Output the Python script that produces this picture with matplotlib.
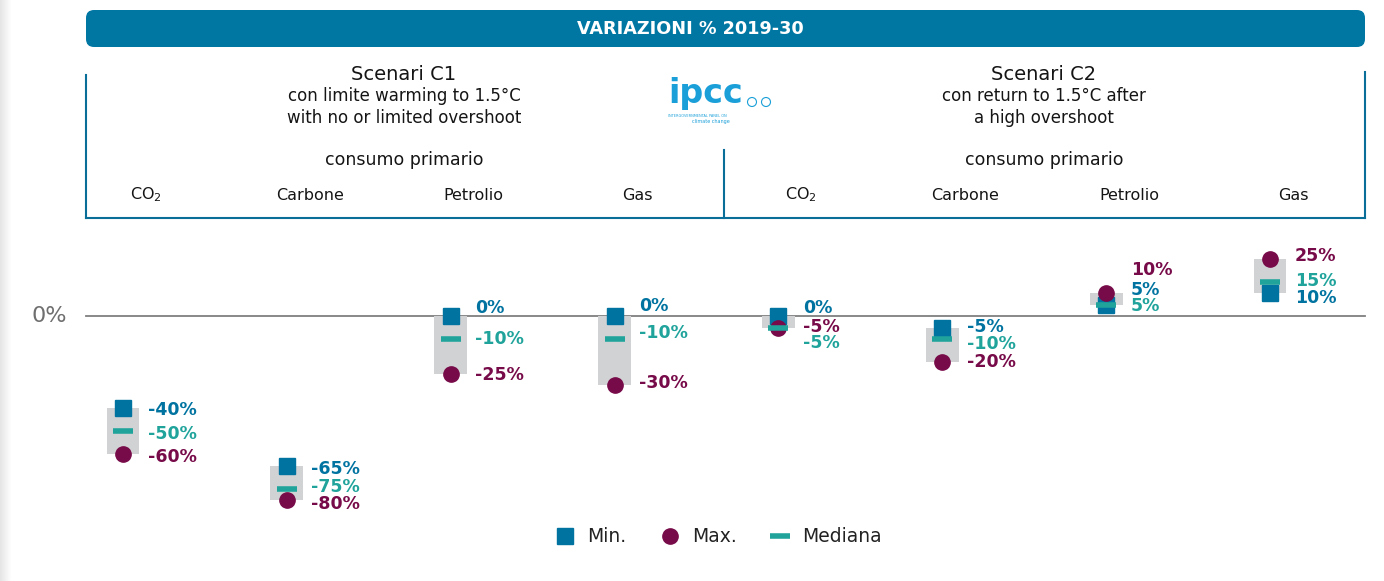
import numpy as np
import matplotlib
matplotlib.use('Agg')
import matplotlib.pyplot as plt
from matplotlib.patches import FancyBboxPatch, Circle
from matplotlib.lines import Line2D

plt.rcParams['font.family'] = ['DejaVu Sans']
plt.rcParams['mathtext.default'] = 'regular'

# data
categories = ['CO$_2$', 'Carbone', 'Petrolio', 'Gas', 'CO$_2$', 'Carbone', 'Petrolio', 'Gas']
val_min = [-40, -65, 0, 0, 0, -5, 5, 10]
val_max = [-60, -80, -25, -30, -5, -20, 10, 25]
val_med = [-50, -75, -10, -10, -5, -10, 5, 15]
groups = ['Scenari C1', 'Scenari C2']
group_sub = ['con limite warming to 1.5°C\nwith no or limited overshoot',
             'con return to 1.5°C after\na high overshoot']
title = 'VARIAZIONI % 2019-30'

# label nudges (in % units) so the value labels don't collide
nudge_min = [-0.9, -1.5, 3.5, 4.3, 3.5, 0.2, 6.3, -2.2]
nudge_med = [-1.3, 0.7, 0, 2.6, -6.7, -2.2, -0.7, 0.2]
nudge_max = [-1.3, -1.7, -0.7, 0.9, 0.2, 0, 10, 1.1]

c_blue = '#0073a0'
c_maroon = '#770a48'
c_teal = '#1fa39b'
c_grey = '#d1d2d4'
c_frame = '#0a6f98'
c_txt = '#151515'

W, H = 1384, 581
fig = plt.figure(figsize=(W / 100, H / 100), dpi=100)

# layout layer in pixel coords
lay = fig.add_axes([0, 0, 1, 1])
lay.set_xlim(0, W)
lay.set_ylim(H, 0)
lay.axis('off')

# card shadow on the left
grad = np.linspace(0.90, 1.0, 12).reshape(1, -1)
lay.imshow(np.dstack([grad] * 3), extent=(0, 12, H, 0), aspect='auto', zorder=0)

# title banner
lay.add_patch(FancyBboxPatch((86 + 8, 10 + 8), 1279 - 16, 37 - 16,
                             boxstyle='round,pad=8', fc='#0077a3', ec='none'))
lay.text(690, 29, title, color='white', fontsize=12.7, fontweight='bold',
         ha='center', va='center')

# header frame
lay.plot([86, 86], [75, 218], color=c_frame, lw=1.5)
lay.plot([1365, 1365], [72, 218], color=c_frame, lw=1.5)
lay.plot([724, 724], [150, 218], color=c_frame, lw=1.5)
lay.plot([86, 1365], [218, 218], color=c_frame, lw=1.5)

for gx, g, sub in zip([404, 1044], groups, group_sub):
    lay.text(gx, 74, g, fontsize=14, ha='center', va='center', color=c_txt)
    lay.text(gx, 107, sub, fontsize=12, ha='center', va='center',
             color=c_txt, linespacing=1.25)
    lay.text(gx, 160, 'consumo primario', fontsize=12.5, ha='center',
             va='center', color=c_txt)

# ipcc logo (approximation)
lay.text(706, 94, 'ipcc', fontsize=24, fontweight='bold', color='#1a9fd9',
         ha='center', va='center')
lay.text(697, 116, 'INTERGOVERNMENTAL PANEL ON', fontsize=2.5, color='#1a9fd9',
         ha='center', va='center')
lay.text(711, 121, 'climate change', fontsize=3.5, color='#1a9fd9',
         ha='center', va='center')
for cx in [752, 766]:
    lay.add_patch(Circle((cx, 102), 4.5, fc='none', ec='#1a9fd9', lw=0.8))

# chart axes: x in category units, y in %
ax = fig.add_axes([0, 0, 1, 1])
ax.patch.set_alpha(0)
sx, sy = 163.86, 2.3
ax.set_xlim(-123 / sx, (W - 123) / sx)
ax.set_ylim((316 - H) / sy, 316 / sy)
ax.axis('off')

x = np.arange(len(categories))
vmin = np.array(val_min)
vmax = np.array(val_max)
vmed = np.array(val_med)

ax.axhline(0, xmin=86 / W, xmax=1365 / W, color='#7f7f7f', lw=1.3, zorder=1)
ax.text(-0.45, 0, '0%', fontsize=16, color='#6f6f6f', ha='center', va='center')

ax.bar(x, vmax - vmin, bottom=vmin, width=0.2, color=c_grey, zorder=2)
ax.plot(x, vmin, 's', color=c_blue, ms=11.5, ls='none', zorder=3)
ax.plot(x, vmax, 'o', color=c_maroon, ms=11, ls='none', zorder=4)
ax.plot(x, vmed, '_', color=c_teal, ms=15, mew=4, ls='none', zorder=5)

def pct(v):
    return f'{v}%'

for i in x:
    tx = i + 0.15
    ax.text(tx, vmin[i] + nudge_min[i], pct(vmin[i]), color=c_blue,
            fontsize=12.5, fontweight='bold', va='center')
    ax.text(tx, vmed[i] + nudge_med[i], pct(vmed[i]), color=c_teal,
            fontsize=12.5, fontweight='bold', va='center')
    ax.text(tx, vmax[i] + nudge_max[i], pct(vmax[i]), color=c_maroon,
            fontsize=12.5, fontweight='bold', va='center')

# category labels in the header
for i, c in enumerate(categories):
    ax.text(i + 0.14, 1 - 195 / H, c, transform=ax.get_xaxis_transform(),
            fontsize=11.5, ha='center', va='center', color=c_txt)

handles = [Line2D([], [], marker='s', color=c_blue, ls='none', ms=11),
           Line2D([], [], marker='o', color=c_maroon, ls='none', ms=11),
           Line2D([], [], marker='_', color=c_teal, ls='none', ms=15, mew=4)]
fig.legend(handles, ['Min.', 'Max.', 'Mediana'], ncol=3, loc='center',
           bbox_to_anchor=(0.516, 1 - 537 / H), frameon=False, fontsize=13.5,
           handletextpad=0.2, columnspacing=1.3, labelcolor='#222222')

fig.savefig('out.png', dpi=100)
